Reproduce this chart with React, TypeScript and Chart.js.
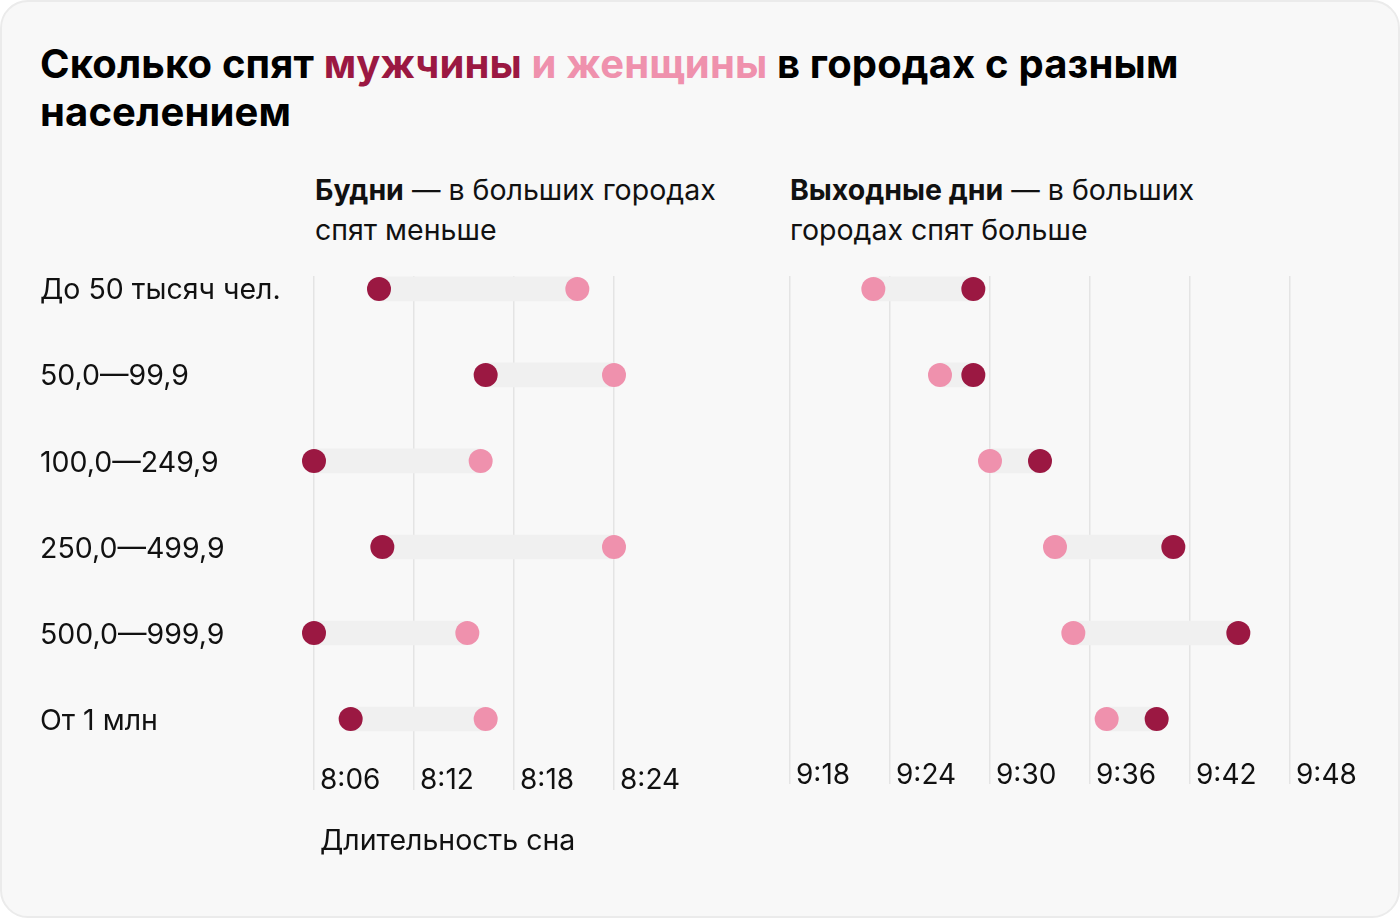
import React, { useEffect, useRef } from "react";
import { Chart, registerables } from "chart.js";

Chart.register(...registerables);

const rowLabels = ["До 50 тысяч чел.", "50,0—99,9", "100,0—249,9", "250,0—499,9", "500,0—999,9", "От 1 млн"];
// minutes of sleep (8:06 = 486)
const weekdayMen = [489.9, 496.3, 486.0, 490.1, 486.0, 488.2];
const weekdayWomen = [501.8, 504.0, 496.0, 504.0, 495.2, 496.3];
const weekendMen = [569.0, 569.0, 573.0, 581.0, 584.9, 580.0];
const weekendWomen = [563.0, 567.0, 570.0, 573.9, 575.0, 577.0];
const weekdayTicks = [486, 492, 498, 504];
const weekendTicks = [558, 564, 570, 576, 582, 588];

const MEN = "#9b1842";
const WOMEN = "#ef91ad";
const BAR = "#f0f0f0";
const GRID = "#e4e4e4";
const FONT = "Inter";

function fmt(v: number) {
  const h = Math.floor(v / 60);
  const m = Math.round(v - h * 60);
  return h + ":" + String(m).padStart(2, "0");
}

function makeConfig(men: number[], women: number[], ticks: number[], showLabels: boolean, tickLen: number, tickPad: number) {
  const bars = men.map((m, i) => ({ x: [Math.min(m, women[i]), Math.max(m, women[i])], y: i }));
  return {
    type: "scatter" as const,
    data: {
      datasets: [
        {
          type: "scatter",
          data: men.map((v, i) => ({ x: v, y: i })),
          backgroundColor: MEN,
          borderWidth: 0,
          pointRadius: 12,
          pointHoverRadius: 12,
          clip: false,
          order: 0,
        },
        {
          type: "scatter",
          data: women.map((v, i) => ({ x: v, y: i })),
          backgroundColor: WOMEN,
          borderWidth: 0,
          pointRadius: 12,
          pointHoverRadius: 12,
          clip: false,
          order: 1,
        },
        {
          type: "bar",
          indexAxis: "y",
          data: bars,
          backgroundColor: BAR,
          borderWidth: 0,
          barThickness: 24,
          clip: false,
          order: 2,
        },
      ],
    },
    options: {
      animation: false,
      responsive: false,
      maintainAspectRatio: false,
      layout: { padding: { top: 26, left: showLabels ? 0 : 20, right: 90, bottom: 0 } },
      plugins: { legend: { display: false }, tooltip: { enabled: false } },
      scales: {
        x: {
          type: "linear",
          offset: false,
          min: ticks[0],
          max: ticks[ticks.length - 1],
          afterBuildTicks: (scale: any) => {
            scale.ticks = ticks.map((v) => ({ value: v }));
          },
          afterFit: (scale: any) => {
            scale.height = 60;
          },
          border: { display: false },
          grid: { color: GRID, lineWidth: 1.5, tickLength: tickLen, drawTicks: true, offset: false },
          ticks: {
            align: "start",
            labelOffset: 6,
            padding: tickPad,
            minRotation: 0,
            maxRotation: 0,
            autoSkip: false,
            color: "#111",
            font: { family: FONT, size: 28 },
            callback: (v: any) => fmt(Number(v)),
          },
        },
        y: {
          type: "linear",
          offset: false,
          reverse: true,
          min: -0.15,
          max: 5.5,
          display: showLabels ? true : false,
          afterBuildTicks: (scale: any) => {
            scale.ticks = rowLabels.map((_, i) => ({ value: i }));
          },
          afterFit: (scale: any) => {
            if (showLabels) scale.width = 274;
          },
          border: { display: false },
          grid: { display: false, offset: false },
          ticks: {
            crossAlign: "far",
            padding: 0,
            labelOffset: 2,
            color: "#111",
            font: { family: FONT, size: 28.5 },
            callback: (v: any) => rowLabels[Number(v)] ?? "",
          },
        },
      },
    },
  };
}

function ChartCanvas({ cfg, style, width, height }: { cfg: any; style: React.CSSProperties; width: number; height: number }) {
  const ref = useRef<HTMLCanvasElement | null>(null);
  useEffect(() => {
    if (!ref.current) return;
    const c = new Chart(ref.current, cfg);
    return () => c.destroy();
  }, []);
  return <canvas ref={ref} width={width} height={height} style={{ position: "absolute", width, height, ...style }} />;
}

export default function App() {
  const left = makeConfig(weekdayMen, weekdayWomen, weekdayTicks, true, 28, -26);
  const right = makeConfig(weekendMen, weekendWomen, weekendTicks, false, 22, -25);
  const sub: React.CSSProperties = {
    position: "absolute",
    top: 170,
    fontFamily: FONT,
    fontSize: 28.5,
    lineHeight: "40px",
    color: "#111",
    width: 430,
  };
  return (
    <div style={{ position: "fixed", left: 0, top: 0, width: 1400, height: 920, background: "#fff" }}>
      <div
        style={{
          position: "absolute",
          left: 0,
          top: 0,
          width: 1396,
          height: 914,
          border: "2px solid #ebebeb",
          borderRadius: 28,
          background: "#f8f8f8",
        }}
      />
      <div
        style={{
          position: "absolute",
          left: 40,
          top: 40,
          width: 1200,
          fontFamily: FONT,
          fontWeight: 700,
          fontSize: 40,
          letterSpacing: "0.15px",
          lineHeight: "48px",
          color: "#000",
        }}
      >
        Сколько спят <span style={{ color: MEN }}>мужчины</span> <span style={{ color: WOMEN }}>и женщины</span> в городах с разным
        населением
      </div>
      <div style={{ ...sub, left: 315 }}>
        <b>Будни</b> — в больших городах спят меньше
      </div>
      <div style={{ ...sub, left: 790 }}>
        <b>Выходные дни</b> — в больших городах спят больше
      </div>
      <ChartCanvas cfg={left} width={664} height={572} style={{ left: 40, top: 250 }} />
      <ChartCanvas cfg={right} width={610} height={572} style={{ left: 770, top: 250 }} />
      <div
        style={{
          position: "absolute",
          left: 320,
          top: 820,
          fontFamily: FONT,
          fontSize: 28.5,
          lineHeight: "40px",
          color: "#111",
        }}
      >
        Длительность сна
      </div>
    </div>
  );
}
